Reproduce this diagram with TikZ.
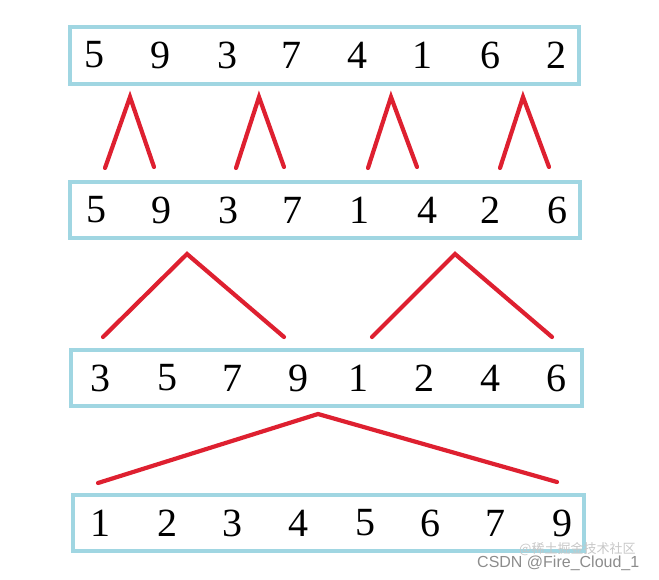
\documentclass[tikz,border=0pt]{standalone}
\usepackage{fontspec}
\setmainfont{Liberation Serif}
\newfontfamily\cjk{Noto Sans CJK SC}
\newfontfamily\wmfont{Liberation Sans}
\definecolor{boxblue}{RGB}{160,214,226}
\definecolor{linkred}{RGB}{222,32,48}

\begin{document}
\begin{tikzpicture}[x=1pt,y=-1pt,
  row/.style={draw=boxblue,line width=4pt},
  num/.style={inner sep=0pt,font=\fontsize{40}{40}\selectfont},
  link/.style={draw=linkred,line width=4.2pt,line cap=round}]
  \useasboundingbox (0,0) rectangle (659,579);
  % rows
  \draw[row] (70,27) rectangle (579,84);
  \draw[row] (70,182) rectangle (580,238);
  \draw[row] (71,350) rectangle (582,406);
  \draw[row] (73,495) rectangle (584,551);
  \foreach \x/\d [count=\i] in {94/5,160/9,227/3,291/7,357/4,422/1,490/6,556/2}
    \node[num] (a\i) at (\x,55) {\d};
  \foreach \x/\d [count=\i] in {96/5,161/9,228/3,292/7,359/1,427/4,490/2,557/6}
    \node[num] (b\i) at (\x,210) {\d};
  \foreach \x/\d [count=\i] in {100/3,167/5,232/7,298/9,358/1,424/2,490/4,556/6}
    \node[num] (c\i) at (\x,378) {\d};
  \foreach \x/\d [count=\i] in {100/1,167/2,232/3,298/4,365/5,430/6,495/7,562/9}
    \node[num] (d\i) at (\x,523) {\d};
  % merges
  \foreach \xl/\xt/\xr [count=\i] in {105/130/154,236/259/284,368/391/417,500/523/549}{
    \coordinate (pl\i) at (\xl,168);
    \coordinate (pt\i) at (\xt,97);
    \coordinate (pr\i) at (\xr,167);
    \draw[link] (pl\i) -- (pt\i) -- (pr\i);
  }
  \foreach \xl/\xt/\xr [count=\i] in {103/187/284,372/455/552}{
    \coordinate (ql\i) at (\xl,337);
    \coordinate (qt\i) at (\xt,254);
    \coordinate (qr\i) at (\xr,337);
    \draw[link] (ql\i) -- (qt\i) -- (qr\i);
  }
  \coordinate (rl) at (98,483);
  \coordinate (rt) at (318,414);
  \coordinate (rr) at (557,482);
  \draw[link] (rl) -- (rt) -- (rr);
  % watermark
  \node[anchor=west,inner sep=0pt,text=black!22,font=\cjk\fontsize{13}{13}\selectfont]
    (wm1) at (519,549) {@稀土掘金技术社区};
  \node[anchor=base west,inner sep=0pt,text=black!45,font=\wmfont\fontsize{16}{16}\selectfont]
    (wm2) at (477,567) {CSDN @Fire\_Cloud\_1};
\end{tikzpicture}
\end{document}
